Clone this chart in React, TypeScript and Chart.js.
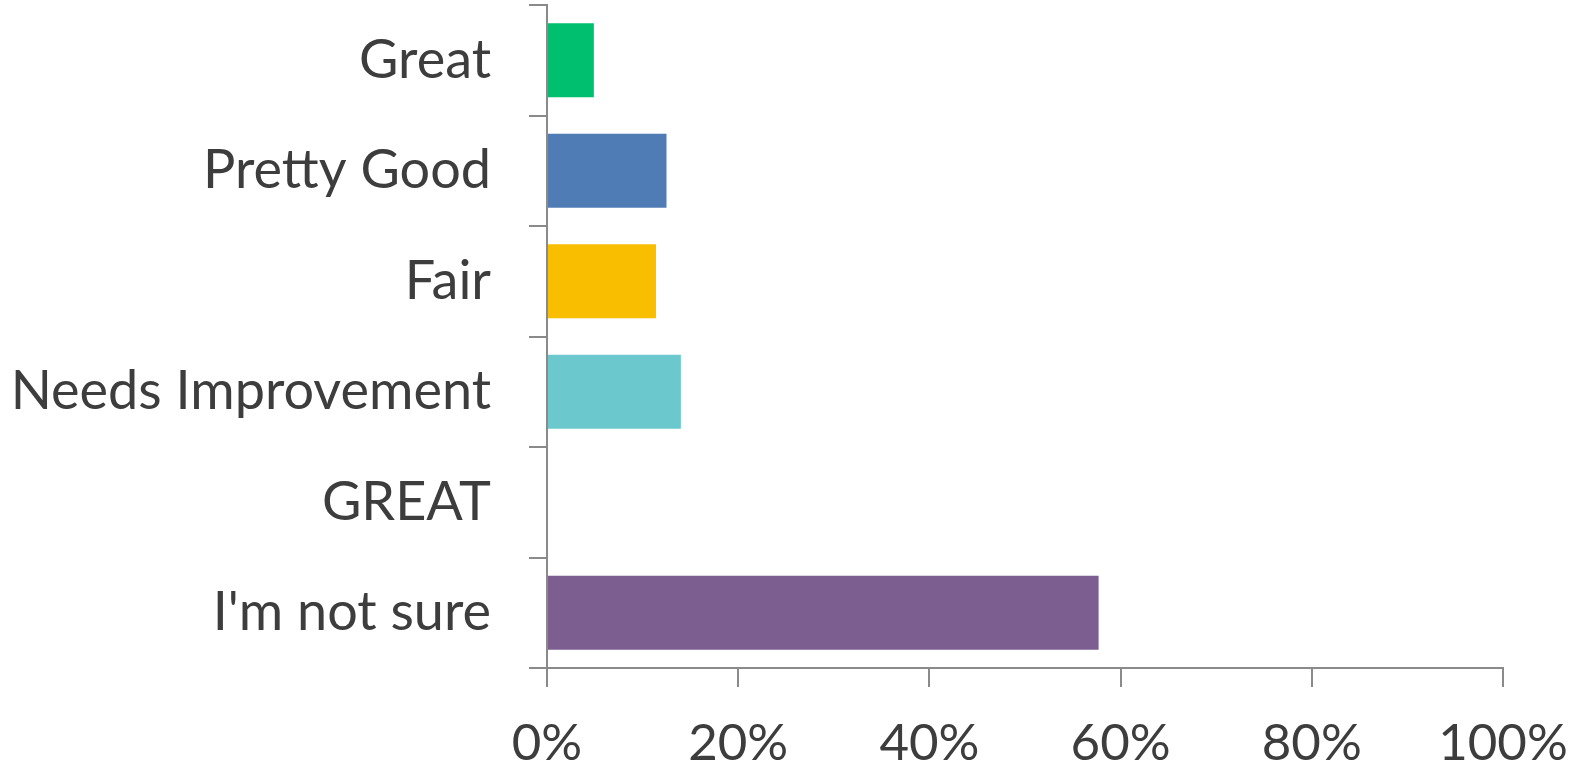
import React, { useEffect, useRef } from "react";
import { Chart, registerables } from "chart.js";

Chart.register(...registerables);

const categories = ["Great", "Pretty Good", "Fair", "Needs Improvement", "GREAT", "I'm not sure"];
const values = [4.9, 12.5, 11.4, 14.0, 0, 57.7];
const barColors = ["#00BF6F", "#507CB6", "#F9BE00", "#6BC8CD", "#FF8B4F", "#7D5E90"];
const xTickValues = [0, 20, 40, 60, 80, 100];

export default function App() {
  const ref = useRef<HTMLCanvasElement | null>(null);
  useEffect(() => {
    if (!ref.current) return;
    const fontFamily = "Lato, 'Open Sans', sans-serif";
    const chart = new Chart(ref.current, {
      type: "bar",
      data: {
        labels: categories,
        datasets: [
          {
            data: values,
            backgroundColor: barColors,
            borderWidth: 0,
            barPercentage: 0.67,
            categoryPercentage: 1,
          },
        ],
      },
      options: {
        indexAxis: "y",
        animation: false,
        responsive: false,
        maintainAspectRatio: false,
        layout: { padding: { left: 0, right: 68, top: 5, bottom: 0 } },
        plugins: { legend: { display: false }, tooltip: { enabled: false } },
        scales: {
          x: {
            min: 0,
            max: 100,
            afterBuildTicks: (scale: any) => {
              scale.ticks = xTickValues.map((v) => ({ value: v }));
            },
            afterFit: (scale: any) => {
              scale.height = 100;
              scale.paddingLeft = 0;
              scale.paddingRight = 0;
            },
            grid: {
              drawOnChartArea: false,
              drawTicks: true,
              tickLength: 19,
              color: "#8a8a8a",
              lineWidth: 2,
            },
            border: { display: true, color: "#8a8a8a", width: 2, z: 1 },
            ticks: {
              padding: 26,
              color: "#3d3d3d",
              font: { family: fontFamily, size: 51 },
              maxRotation: 0,
              callback: (v: any) => v + "%",
            },
          },
          y: {
            afterFit: (scale: any) => {
              scale.width = 547;
              scale.paddingTop = 0;
              scale.paddingBottom = 0;
            },
            grid: {
              drawOnChartArea: false,
              drawTicks: true,
              tickLength: 18,
              color: "#8a8a8a",
              lineWidth: 2,
              offset: true,
            },
            border: { display: true, color: "#8a8a8a", width: 2, z: 1 },
            ticks: {
              padding: 38,
              color: "#3d3d3d",
              font: { family: fontFamily, size: 54 },
            },
          },
        },
      },
    });
    return () => chart.destroy();
  }, []);
  return (
    <div style={{ position: "fixed", left: 0, top: 0, width: 1571, height: 768, background: "#fff" }}>
      <canvas ref={ref} width={1571} height={768} style={{ width: 1571, height: 768, display: "block" }} />
    </div>
  );
}
